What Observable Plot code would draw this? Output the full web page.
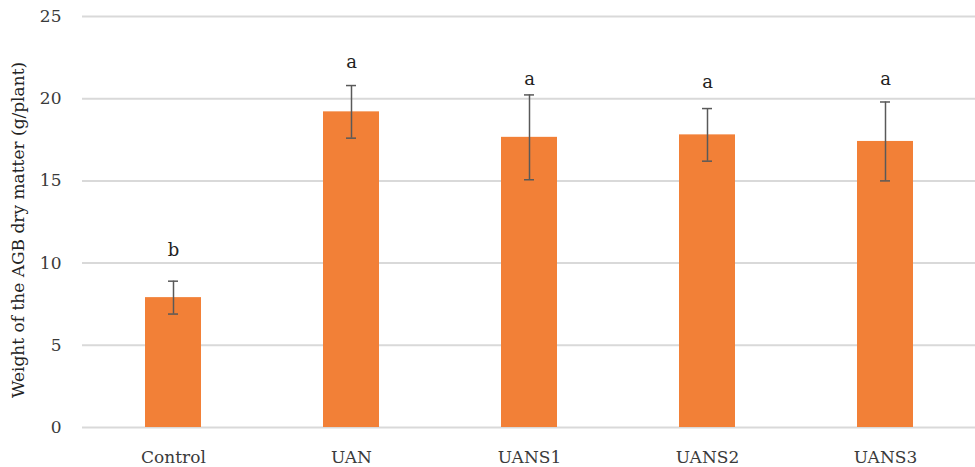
<!DOCTYPE html>
<html>
<head>
<meta charset="utf-8">
<script src="https://cdn.jsdelivr.net/npm/d3@7"></script>
<script src="https://cdn.jsdelivr.net/npm/@observablehq/plot@0.6"></script>
<style>
  html, body { margin: 0; padding: 0; background: #fff; }
  #chart svg { display: block; }
</style>
</head>
<body>
<div id="chart"></div>
<script>
const categories = ["Control", "UAN", "UANS1", "UANS2", "UANS3"];
const means = [7.9, 19.2, 17.65, 17.8, 17.4];
const errors = [1.0, 1.6, 2.58, 1.6, 2.4];
const letters = ["b", "a", "a", "a", "a"];
const letterY = [10.8, 22.2, 21.2, 21.0, 21.2];
const yTicks = [0, 5, 10, 15, 20, 25];

const data = categories.map((c, i) => ({
  cat: c, mean: means[i], lo: means[i] - errors[i], hi: means[i] + errors[i],
  letter: letters[i], ly: letterY[i]
}));

const font = "'DejaVu Serif', 'Liberation Serif', serif";

const chart = Plot.plot({
  width: 975,
  height: 467,
  marginLeft: 82,
  marginRight: 0,
  marginTop: 16,
  marginBottom: 40,
  style: { fontFamily: font, fontSize: "17px", color: "#3a3a3a", background: "#fff" },
  x: { domain: categories, paddingInner: 0.686, paddingOuter: 0.343, label: null, tickSize: 0, tickPadding: 23 },
  y: { domain: [0, 25], ticks: yTicks, label: null, tickSize: 0, tickPadding: 21 },
  marks: [
    Plot.ruleY(yTicks, { stroke: "#d9d9d9", strokeWidth: 2 }),
    Plot.barY(data, { x: "cat", y: "mean", fill: "#f28037" }),
    Plot.ruleX(data, { x: "cat", y1: "lo", y2: "hi", stroke: "#595959", strokeWidth: 1.5 }),
    Plot.tickY(data, { x: "cat", y: "hi", stroke: "#595959", strokeWidth: 1.5, inset: 23 }),
    Plot.tickY(data, { x: "cat", y: "lo", stroke: "#595959", strokeWidth: 1.5, inset: 23 }),
    Plot.text(data, { x: "cat", y: "ly", text: "letter", fill: "#222", fontSize: 18, fontFamily: font }),
    Plot.text(["Weight of the AGB dry matter (g/plant)"], {
      frameAnchor: "left", textAnchor: "middle", dx: -64, dy: 8, rotate: -90,
      fill: "#222", fontSize: 17, fontFamily: font
    })
  ]
});
document.getElementById("chart").append(chart);
</script>
</body>
</html>
